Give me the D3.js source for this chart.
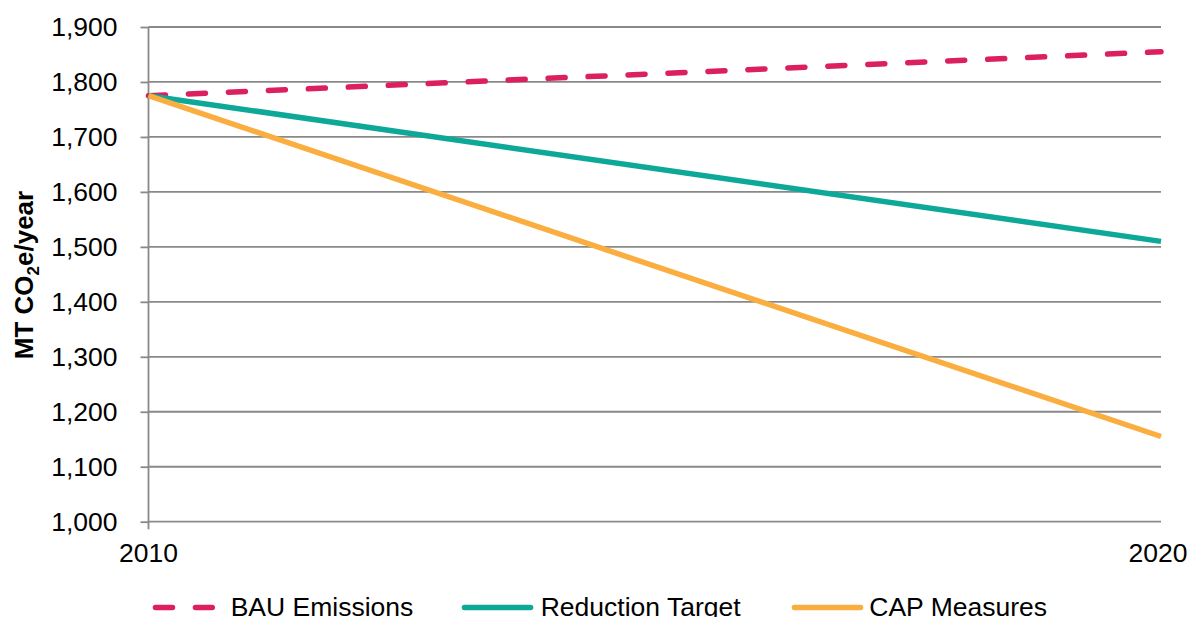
<!DOCTYPE html>
<html>
<head>
<meta charset="utf-8">
<script src="https://cdn.jsdelivr.net/npm/d3@7"></script>
<style>
  html, body { margin: 0; padding: 0; background: #fff; }
  svg { display: block; font-family: "Liberation Sans", Arial, sans-serif; }
</style>
</head>
<body>
<svg id="chart" width="1193" height="617"></svg>
<script>
// ---- data ----
const years = [2010, 2020];
const bauEmissions = [1775, 1855];
const reductionTarget = [1775, 1510];
const capMeasures = [1775, 1155];
const yTicks = [1000, 1100, 1200, 1300, 1400, 1500, 1600, 1700, 1800, 1900];
const xTickLabels = ["2010", "2020"];
const seriesNames = ["BAU Emissions", "Reduction Target", "CAP Measures"];
const seriesColors = ["#DB1F5F", "#0EA899", "#FBAE40"];

(function () {
const series = [
  { name: seriesNames[0], values: bauEmissions, color: seriesColors[0], dashed: true },
  { name: seriesNames[1], values: reductionTarget, color: seriesColors[1], dashed: false },
  { name: seriesNames[2], values: capMeasures, color: seriesColors[2], dashed: false }
];

const svg = d3.select("#chart");
const pLeft = 148.5, pRight = 1161, pTop = 27, pBottom = 521.7;

const x = d3.scaleLinear().domain([2010, 2020]).range([pLeft, pRight]);
const y = d3.scaleLinear().domain([1000, 1900]).range([pBottom, pTop]);

const gridColor = "#898989";

// gridlines
svg.append("g").selectAll("line").data(yTicks).enter().append("line")
  .attr("x1", pLeft).attr("x2", pRight)
  .attr("y1", d => y(d)).attr("y2", d => y(d))
  .attr("stroke", gridColor).attr("stroke-width", 1.8);

// y axis
const yAxis = d3.axisLeft(y).tickValues(yTicks).tickSize(8).tickPadding(23)
  .tickFormat(d3.format(","));
const gy = svg.append("g").attr("transform", `translate(${pLeft},0)`).call(yAxis);
gy.select(".domain").remove();
gy.selectAll(".tick line").attr("stroke", gridColor).attr("stroke-width", 1.8);
gy.selectAll(".tick text").attr("font-size", 26.5).attr("fill", "#000")
  .attr("font-family", "'Liberation Sans', Arial, sans-serif");

// vertical axis line (extends slightly below)
svg.append("line")
  .attr("x1", pLeft).attr("x2", pLeft).attr("y1", pTop).attr("y2", pBottom + 7.5)
  .attr("stroke", gridColor).attr("stroke-width", 1.8);

// x labels
svg.append("g").selectAll("text").data(years).enter().append("text")
  .attr("x", (d, i) => x(d) - (i === 1 ? 3 : 0))
  .attr("y", 562)
  .attr("text-anchor", "middle")
  .attr("font-size", 26.5)
  .attr("fill", "#000")
  .text((d, i) => xTickLabels[i]);

// lines
const line = d3.line().x((d, i) => x(years[i])).y(d => y(d));
svg.append("g").selectAll("path").data(series).enter().append("path")
  .attr("d", d => line(d.values))
  .attr("fill", "none")
  .attr("stroke", d => d.color)
  .attr("stroke-width", 5.5)
  .attr("stroke-linecap", d => d.dashed ? "round" : "butt")
  .attr("stroke-dasharray", d => d.dashed ? "17,23" : null);

// y title
const title = svg.append("text")
  .attr("transform", "translate(33,275) rotate(-90)")
  .attr("text-anchor", "middle")
  .attr("font-size", 26)
  .attr("font-weight", "bold")
  .attr("fill", "#000");
title.append("tspan").text("MT CO");
title.append("tspan").attr("font-size", 17).attr("dy", 6).text("2");
title.append("tspan").attr("dy", -6).text("e/year");

// legend
const legendSymX = [152.7, 461.7, 791.7];
const legendTextX = [230.7, 540.7, 869.3];
const legendY = 607.5;
const lg = svg.append("g");
series.forEach((s, i) => {
  if (s.dashed) {
    lg.append("line")
      .attr("x1", legendSymX[i] + 2.75).attr("x2", 215 - 2.75)
      .attr("y1", legendY).attr("y2", legendY)
      .attr("stroke", s.color).attr("stroke-width", 5.5)
      .attr("stroke-linecap", "round")
      .attr("stroke-dasharray", "17,23");
  } else {
    lg.append("line")
      .attr("x1", legendSymX[i] + 2.75).attr("x2", legendSymX[i] + 71.6 - 2.75)
      .attr("y1", legendY).attr("y2", legendY)
      .attr("stroke", s.color).attr("stroke-width", 5.5)
      .attr("stroke-linecap", "round");
  }
  lg.append("text")
    .attr("x", legendTextX[i]).attr("y", 616)
    .attr("font-size", 26.5).attr("fill", "#000")
    .text(s.name);
});
})();
</script>
</body>
</html>
